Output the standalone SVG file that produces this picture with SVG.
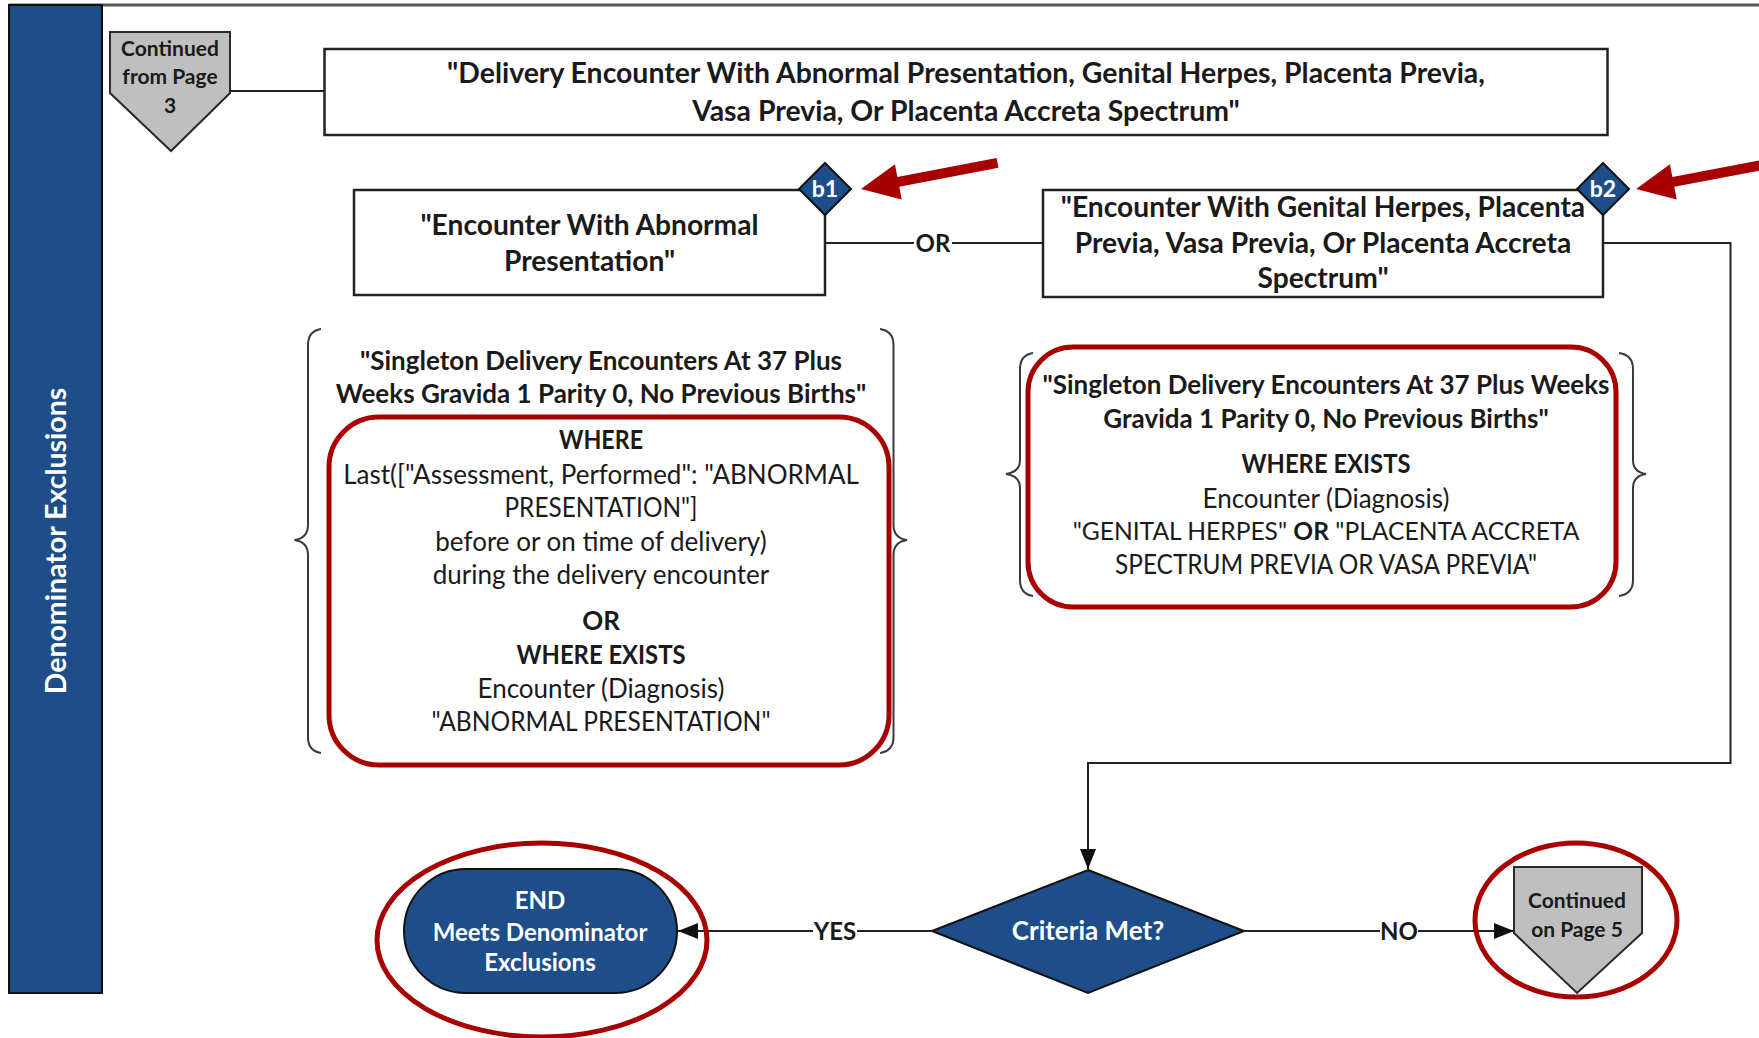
<svg xmlns="http://www.w3.org/2000/svg" width="1759" height="1038" viewBox="0 0 1759 1038">
  <defs>
    <style>
      text { font-family: Lato, "Liberation Sans", sans-serif; fill: #1a1a1a; text-anchor: middle; }
      .b { font-weight: 700; }
      .box { fill: #ffffff; stroke: #222222; stroke-width: 2.5; }
      .page { fill: #bfbfbf; stroke: #2a2a2a; stroke-width: 2; }
      .navy { fill: #1d4e89; stroke: #111111; stroke-width: 2; }
      .wt { fill: #ffffff; }
      .hl { fill: none; stroke: #a80000; stroke-width: 5; }
      .brace { fill: none; stroke: #3a3a3a; stroke-width: 2; }
      .conn { fill: none; stroke: #222222; stroke-width: 2; }
      .callout { fill: #a80000; }
      .lbl { fill: #ffffff; }
    </style>
    <marker id="arrow" markerUnits="userSpaceOnUse" markerWidth="20" markerHeight="16" viewBox="0 0 20 16" refX="20" refY="8" orient="auto">
      <path d="M0,0 L20,8 L0,16 z" fill="#111111"/>
    </marker>
    <polygon id="callout-arrow" points="0,0 38,-18 38,-5 139,-5 139,5 38,5 38,18"/>
  </defs>

  <rect width="1759" height="1038" fill="#ffffff"/>

  <!-- swimlane frame -->
  <g id="lane">
    <line x1="9" y1="5" x2="1759" y2="5" stroke="#555555" stroke-width="3"/>
    <rect x="9" y="5" width="93" height="988" fill="#1d4e89" stroke="#111111" stroke-width="2"/>
    <text class="b wt" font-size="28.5" transform="translate(56,541) rotate(-90)" y="10">Denominator Exclusions</text>
  </g>

  <!-- connectors -->
  <g id="connectors">
    <path class="conn" d="M230,91 H324.5"/>
    <path class="conn" d="M825,243 H1043"/>
    <path class="conn" d="M1603,243 H1730.5 V763 H1088 V869" marker-end="url(#arrow)"/>
    <path class="conn" d="M932,931 H678" marker-end="url(#arrow)"/>
    <path class="conn" d="M1244,931 H1514" marker-end="url(#arrow)"/>
    <rect class="lbl" x="914" y="229" width="38" height="28"/>
    <text class="b" font-size="24" x="933" y="251.5">OR</text>
    <rect class="lbl" x="813" y="917" width="44" height="28"/>
    <text class="b" font-size="24" x="835" y="939.5">YES</text>
    <rect class="lbl" x="1380" y="917" width="38" height="28"/>
    <text class="b" font-size="24" x="1399" y="939.5">NO</text>
  </g>

  <!-- off-page connector in -->
  <g id="from-page-3">
    <polygon class="page" points="110,32 230,32 230,93 171,151 110,93"/>
    <text class="b" font-size="21" x="170" y="56">Continued</text>
    <text class="b" font-size="21" x="170" y="84">from Page</text>
    <text class="b" font-size="21" x="170" y="113">3</text>
  </g>

  <!-- top criteria box -->
  <g id="delivery-encounter">
    <rect class="box" x="324.5" y="49" width="1283" height="86"/>
    <text class="b" font-size="28.4" x="966" y="83">"Delivery Encounter With Abnormal Presentation, Genital Herpes, Placenta Previa,</text>
    <text class="b" font-size="28.4" x="966" y="121">Vasa Previa, Or Placenta Accreta Spectrum"</text>
  </g>

  <!-- branch b1 -->
  <g id="abnormal-presentation">
    <rect class="box" x="354" y="190" width="471" height="105"/>
    <text class="b" font-size="28.2" x="589.5" y="235">"Encounter With Abnormal</text>
    <text class="b" font-size="28.2" x="589.5" y="271">Presentation"</text>
  </g>
  <g id="b1">
    <polygon class="navy" points="825,163 851,189 825,215 799,189"/>
    <text class="b wt" font-size="23" x="825" y="197">b1</text>
  </g>

  <!-- branch b2 -->
  <g id="genital-herpes">
    <rect class="box" x="1043" y="190" width="560" height="107"/>
    <text class="b" font-size="28.2" x="1323" y="217">"Encounter With Genital Herpes, Placenta</text>
    <text class="b" font-size="28.2" x="1323" y="253">Previa, Vasa Previa, Or Placenta Accreta</text>
    <text class="b" font-size="28.2" x="1323" y="288">Spectrum"</text>
  </g>
  <g id="b2">
    <polygon class="navy" points="1603,163 1629,189 1603,215 1577,189"/>
    <text class="b wt" font-size="23" x="1603" y="197">b2</text>
  </g>

  <!-- b1 definition -->
  <g id="b1-definition">
    <path class="brace" d="M321,329 Q308,331 308,345 V525 Q308,538 294.5,540 Q308,542 308,555 V737 Q308,751 321,753"/>
    <path class="brace" d="M880,329 Q893.5,331 893.5,345 V525 Q893.5,538 907,540 Q893.5,542 893.5,555 V737 Q893.5,751 880,753"/>
    <text class="b" font-size="26" x="601" y="369.5">"Singleton Delivery Encounters At 37 Plus</text>
    <text class="b" font-size="26" x="601" y="403">Weeks Gravida 1 Parity 0, No Previous Births"</text>
    <rect class="hl" x="329" y="417" width="560" height="348" rx="50"/>
    <text class="b" font-size="26" x="601" y="449" textLength="84" lengthAdjust="spacingAndGlyphs">WHERE</text>
    <text font-size="26" x="601" y="484">Last(["Assessment, Performed": "ABNORMAL</text>
    <text font-size="26" x="601" y="517" textLength="193" lengthAdjust="spacingAndGlyphs">PRESENTATION"]</text>
    <text font-size="26" x="601" y="551">before or on time of delivery)</text>
    <text font-size="26" x="601" y="584">during the delivery encounter</text>
    <text class="b" font-size="26" x="601" y="630">OR</text>
    <text class="b" font-size="26" x="601" y="664" textLength="169" lengthAdjust="spacingAndGlyphs">WHERE EXISTS</text>
    <text font-size="26" x="601" y="698">Encounter (Diagnosis)</text>
    <text font-size="26" x="601" y="731" textLength="339" lengthAdjust="spacingAndGlyphs">"ABNORMAL PRESENTATION"</text>
  </g>

  <!-- b2 definition -->
  <g id="b2-definition">
    <path class="brace" d="M1033,353 Q1020,355 1020,369 V460 Q1020,472 1006,474 Q1020,476 1020,488 V580 Q1020,594 1033,596"/>
    <path class="brace" d="M1619,353 Q1633,355 1633,369 V460 Q1633,472 1646,474 Q1633,476 1633,488 V580 Q1633,594 1619,596"/>
    <rect class="hl" x="1028" y="347" width="588" height="260" rx="45"/>
    <text class="b" font-size="26" x="1326" y="394">"Singleton Delivery Encounters At 37 Plus Weeks</text>
    <text class="b" font-size="26" x="1326" y="428">Gravida 1 Parity 0, No Previous Births"</text>
    <text class="b" font-size="26" x="1326" y="473" textLength="169" lengthAdjust="spacingAndGlyphs">WHERE EXISTS</text>
    <text font-size="26" x="1326" y="508">Encounter (Diagnosis)</text>
    <text font-size="24.6" x="1326" y="540">"GENITAL HERPES" <tspan class="b">OR</tspan> "PLACENTA ACCRETA</text>
    <text font-size="26" x="1326" y="574" textLength="422" lengthAdjust="spacingAndGlyphs">SPECTRUM PREVIA OR VASA PREVIA"</text>
  </g>

  <!-- decision -->
  <g id="criteria-met">
    <polygon class="navy" points="1088,870 1244,931 1088,993 932,931"/>
    <text class="b wt" font-size="26" x="1088" y="940">Criteria Met?</text>
  </g>

  <!-- end terminal -->
  <g id="end">
    <rect class="navy" x="404" y="869" width="273" height="124" rx="62" ry="62"/>
    <text class="b wt" font-size="24" x="540" y="908.5">END</text>
    <text class="b wt" font-size="24" x="540" y="940.5">Meets Denominator</text>
    <text class="b wt" font-size="24" x="540" y="970.5">Exclusions</text>
    <ellipse class="hl" cx="542" cy="940" rx="165" ry="97"/>
  </g>

  <!-- off-page connector out -->
  <g id="to-page-5">
    <polygon class="page" points="1514,867 1642,867 1642,933 1577,993 1514,933"/>
    <text class="b" font-size="21" x="1577" y="908">Continued</text>
    <text class="b" font-size="21" x="1577" y="937">on Page 5</text>
    <ellipse class="hl" cx="1576" cy="920" rx="101" ry="77"/>
  </g>

  <!-- callout arrows -->
  <g id="callouts">
    <use href="#callout-arrow" class="callout" transform="translate(861,189) rotate(-10.8)"/>
    <use href="#callout-arrow" class="callout" transform="translate(1636,189) rotate(-10.8)"/>
  </g>
</svg>
